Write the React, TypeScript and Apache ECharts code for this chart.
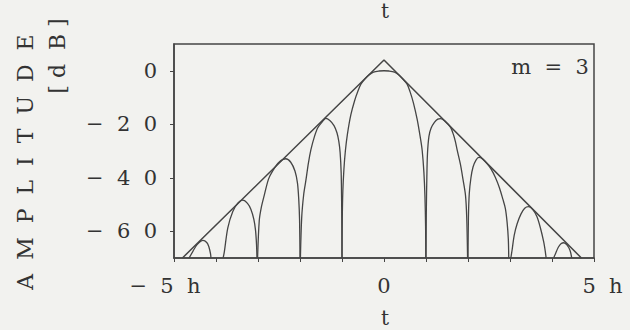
import React, { useEffect, useRef } from "react";
import * as echarts from "echarts";

// Envelope of the side-lobe peaks (t in units of h, amplitude in dB)
const envelope: [number, number][] = [
  [-4.8, -70],
  [0, 4],
  [4.7, -70],
];

// Lobes of the amplitude curve, one array per interval between nulls
const lobeL4: [number, number][] = [
  [-4.64, -70], [-4.55, -67.5], [-4.45, -65.0], [-4.31, -63.4], [-4.22, -64.2],
  [-4.17, -65.8], [-4.13, -68.5], [-4.12, -70],
];
const lobeL3: [number, number][] = [
  [-3.83, -70], [-3.8, -67.5], [-3.72, -58.8], [-3.6, -52.6], [-3.47, -49.3],
  [-3.36, -48.4], [-3.25, -49.6], [-3.17, -51.8], [-3.1, -55.5], [-3.06, -59.5],
  [-3.035, -65], [-3.025, -70],
];
const lobeL2: [number, number][] = [
  [-3.01, -70], [-2.97, -56], [-2.92, -51], [-2.85, -46.5], [-2.75, -40.5],
  [-2.65, -37.4], [-2.5, -34.2], [-2.34, -32.9], [-2.22, -34.2], [-2.12, -37.5],
  [-2.06, -42], [-2.03, -48], [-2.01, -56], [-2.0, -70],
];
const lobeL1: [number, number][] = [
  [-1.99, -70], [-1.96, -55], [-1.91, -46], [-1.86, -41], [-1.8, -34.5],
  [-1.74, -29.5], [-1.66, -24.8], [-1.58, -21.4], [-1.48, -19.3], [-1.385, -17.8],
  [-1.29, -18.6], [-1.19, -20.5], [-1.12, -23.2], [-1.075, -26.5], [-1.045, -30.5],
  [-1.02, -38], [-1.008, -50], [-1.0, -70],
];
const mainLobe: [number, number][] = [
  [-1.0, -70], [-0.993, -55], [-0.98, -45], [-0.955, -37], [-0.92, -30],
  [-0.87, -23.6], [-0.79, -16.5], [-0.7, -11.2], [-0.62, -7.6], [-0.55, -5.0],
  [-0.45, -3.0], [-0.35, -1.5], [-0.25, -0.5], [-0.12, -0.1], [0, 0],
  [0.12, -0.1], [0.25, -0.5], [0.35, -1.5], [0.45, -3.1], [0.55, -5.0],
  [0.62, -7.8], [0.7, -12], [0.79, -18.2], [0.87, -25.5], [0.91, -29.9],
  [0.95, -38], [0.975, -47], [0.99, -58], [0.995, -70],
];
const lobeR1: [number, number][] = [
  [1.0, -70], [1.008, -52], [1.02, -40], [1.035, -31], [1.07, -24.5],
  [1.12, -21.5], [1.2, -19.3], [1.28, -18.1], [1.345, -17.9], [1.45, -18.8],
  [1.585, -21.2], [1.66, -24.2], [1.7, -26.5], [1.74, -29.5], [1.82, -35],
  [1.88, -40.5], [1.94, -46.5], [1.97, -55], [1.99, -70],
];
const lobeR2: [number, number][] = [
  [2.0, -70], [2.01, -55], [2.03, -46], [2.07, -40], [2.12, -36],
  [2.19, -33.4], [2.26, -32.4], [2.35, -33], [2.45, -34.6], [2.55, -36.8],
  [2.65, -39.8], [2.75, -43.8], [2.83, -48], [2.89, -51.5], [2.93, -56.5],
  [2.96, -63], [2.97, -70],
];
const lobeR3: [number, number][] = [
  [3.02, -70], [3.05, -67], [3.1, -61.5], [3.17, -57.2], [3.26, -53.6],
  [3.35, -51.4], [3.44, -50.8], [3.54, -51.8], [3.64, -54.5], [3.72, -58.5],
  [3.8, -63.8], [3.84, -67.5], [3.86, -70],
];
const lobeR4: [number, number][] = [
  [4.04, -70], [4.08, -68.5], [4.15, -66], [4.22, -64.6], [4.28, -64.3],
  [4.36, -65.2], [4.43, -67.2], [4.47, -70],
];

const lobes = [lobeL4, lobeL3, lobeL2, lobeL1, mainLobe, lobeR1, lobeR2, lobeR3, lobeR4];

// Axis ticks and their labels
const xTickValues = [-5, 0, 5];
const xTickLabels = ["{l|\u2212  5  h}", "{c|0}", "{r|5  h}"];
const yTickValues = [0, -20, -40, -60];
const yTickLabels = ["0", "\u2212  2  0", "\u2212  4  0", "\u2212  6  0"];

const INK = "#333333";
const LINE = "#454545";
const PAPER = "#f2f2ef";
const FONT = "DejaVu Serif";

export default function App() {
  const ref = useRef<HTMLDivElement>(null);

  useEffect(() => {
    if (!ref.current) return;
    const chart = echarts.init(ref.current, undefined, { renderer: "svg" });

    const curveSeries = lobes.map((pts) => ({
      type: "line" as const,
      data: pts,
      showSymbol: false,
      smooth: 0.3,
      lineStyle: { color: LINE, width: 1.3 },
      silent: true,
    }));

    chart.setOption({
      animation: false,
      backgroundColor: PAPER,
      grid: {
        left: 174,
        right: 36,
        top: 44,
        bottom: 72,
        show: true,
        borderColor: LINE,
        borderWidth: 1.5,
        backgroundColor: "transparent",
      },
      xAxis: {
        type: "value",
        min: -5,
        max: 5,
        interval: 1,
        axisLine: { show: true, onZero: false, lineStyle: { color: LINE, width: 1.5 } },
        axisTick: { show: true, length: 4, lineStyle: { color: LINE, width: 1 } },
        splitLine: { show: false },
        axisLabel: {
          margin: 17,
          color: INK,
          fontFamily: FONT,
          fontSize: 21,
          formatter: (v: number) => {
            const i = xTickValues.indexOf(v);
            return i >= 0 ? xTickLabels[i] : "";
          },
          rich: {
            l: { fontFamily: FONT, fontSize: 21, color: INK, padding: [0, 18, 0, 0] },
            c: { fontFamily: FONT, fontSize: 21, color: INK },
            r: { fontFamily: FONT, fontSize: 21, color: INK, padding: [0, 0, 0, 17] },
          },
        },
      },
      yAxis: {
        type: "value",
        min: -70,
        max: 10,
        axisLine: { show: true, onZero: false, lineStyle: { color: LINE, width: 1.5 } },
        axisTick: {
          show: true,
          length: 4,
          customValues: yTickValues,
          lineStyle: { color: LINE, width: 1 },
        },
        splitLine: { show: false },
        axisLabel: {
          margin: 17,
          color: INK,
          fontFamily: FONT,
          fontSize: 21,
          customValues: yTickValues,
          formatter: (v: number) => {
            const i = yTickValues.indexOf(v);
            return i >= 0 ? yTickLabels[i] : "";
          },
        },
      },
      series: [
        {
          type: "line",
          data: envelope,
          showSymbol: false,
          lineStyle: { color: LINE, width: 1.5 },
          silent: true,
        },
        ...curveSeries,
      ],
      graphic: [
        {
          type: "text",
          x: 385,
          y: 11,
          style: { text: "t", fontFamily: FONT, fontSize: 20, fill: INK, textAlign: "center", textVerticalAlign: "middle" },
        },
        {
          type: "text",
          x: 385,
          y: 318,
          style: { text: "t", fontFamily: FONT, fontSize: 20, fill: INK, textAlign: "center", textVerticalAlign: "middle" },
        },
        {
          type: "text",
          x: 550,
          y: 67,
          style: { text: "m  =  3", fontFamily: FONT, fontSize: 21, fill: INK, textAlign: "center", textVerticalAlign: "middle" },
        },
        {
          type: "text",
          x: 25,
          y: 162,
          rotation: Math.PI / 2,
          style: {
            text: "A  M  P  L  I  T  U  D  E",
            fontFamily: FONT,
            fontSize: 22,
            fill: INK,
            textAlign: "center",
            textVerticalAlign: "middle",
          },
        },
        {
          type: "text",
          x: 57,
          y: 56,
          rotation: Math.PI / 2,
          style: {
            text: "[ d  B ]",
            fontFamily: FONT,
            fontSize: 22,
            fill: INK,
            textAlign: "center",
            textVerticalAlign: "middle",
          },
        },
      ],
    });

    return () => chart.dispose();
  }, []);

  return (
    <div
      ref={ref}
      style={{ position: "absolute", left: 0, top: 0, width: 630, height: 330, background: PAPER }}
    />
  );
}
